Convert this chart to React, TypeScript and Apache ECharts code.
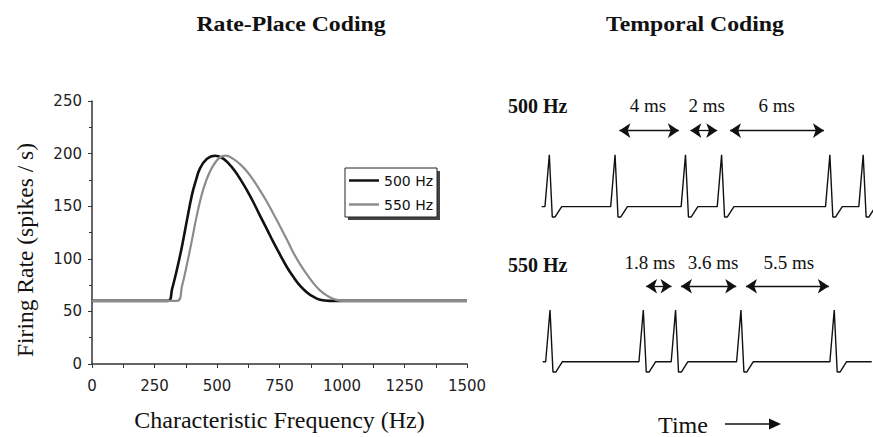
import React, { useEffect, useRef } from "react";
import * as echarts from "echarts";

// ---- Left panel: rate-place coding (firing rate vs characteristic frequency)
const cf500 = [0, 305, 320, 340, 360, 380, 400, 415, 432, 460, 492, 520, 545, 570, 595, 620, 645, 672, 700, 725, 752, 780, 805, 830, 860, 885, 912, 950, 1500];
const rate500 = [60, 60, 71, 90, 112, 137, 161, 174, 186, 195, 198, 196, 191, 184, 175, 165, 154, 141, 128, 116, 104, 92, 83, 75, 68, 64, 61, 60, 60];
const cf550 = [0, 340, 360, 380, 400, 420, 445, 472, 505, 535, 565, 592, 620, 645, 672, 700, 725, 752, 780, 805, 832, 860, 885, 912, 940, 965, 1000, 1500];
const rate550 = [60, 60, 74, 95, 118, 142, 166, 183, 195, 198, 195, 190, 183, 175, 165, 154, 143, 131, 118, 106, 95, 85, 77, 70, 65, 62, 60, 60];
const seriesNames = ["500 Hz", "550 Hz"];

// ---- Right panel: temporal coding (times in ms)
const spikes500 = [0, 3.77, 7.81, 9.88, 16.09, 18.0];
const spikes550 = [0.04, 5.39, 7.24, 10.99, 16.34];
const arrowStart500 = [4.02, 8.09, 10.36];
const arrowEnd500 = [7.43, 9.63, 15.75];
const arrowStart550 = [5.55, 7.55, 11.28];
const arrowEnd550 = [7.01, 10.72, 16.03];
const intervalLabels500 = ["4 ms", "2 ms", "6 ms"];
const intervalLabelX500 = [5.66, 9.03, 13.04];
const intervalLabels550 = ["1.8 ms", "3.6 ms", "5.5 ms"];
const intervalLabelX550 = [5.77, 9.39, 13.74];
// spike waveform: [ms offset, amplitude]
const spikeShape = [[-0.25, 0], [0, 1], [0.17, -0.2], [0.33, -0.2], [0.71, 0]];

function buildTrace(spikes: number[], base: number, tStart: number, tEnd: number) {
  const pts: number[][] = [[tStart, base]];
  spikes.forEach((t) => {
    spikeShape.forEach(([dt, dv]) => pts.push([t + dt, base + dv]));
  });
  if (tEnd > pts[pts.length - 1][0]) pts.push([tEnd, base]);
  return pts;
}

function buildArrows(s: number[], e: number[], y: number) {
  return s.map((v, i) => [{ coord: [v, y] }, { coord: [e[i], y] }]);
}

const serif = "Liberation Serif";
const sans = "DejaVu Sans";

export default function App() {
  const ref = useRef<HTMLDivElement>(null);
  useEffect(() => {
    if (!ref.current) return;
    const chart = echarts.init(ref.current, undefined, { renderer: "svg" });
    const arrowLine = {
      silent: true,
      symbol: ["arrow", "arrow"],
      symbolSize: [11, 11],
      lineStyle: { color: "#111", width: 1.3, type: "solid" },
      label: { show: false },
      emphasis: { disabled: true },
    };
    const labelSeries = (name: string, labels: string[], xs: number[], y: number) => ({
      name,
      type: "scatter",
      xAxisIndex: 1,
      yAxisIndex: 1,
      symbolSize: 0,
      silent: true,
      itemStyle: { opacity: 1, color: "#111" },
      data: labels.map((t, i) => ({ value: [xs[i], y], name: t })),
      label: {
        show: true,
        position: "inside",
        formatter: "{b}",
        fontFamily: serif,
        fontSize: 19,
        color: "#111",
        opacity: 1,
      },
    });
    chart.setOption({
      animation: false,
      backgroundColor: "#fff",
      grid: [
        { left: 92, top: 101, right: 406, bottom: 69 },
        { left: 540.6, top: 103.2, right: 1.1, bottom: 23.6 },
      ],
      xAxis: [
        {
          gridIndex: 0,
          type: "value",
          min: 0,
          max: 1500,
          interval: 250,
          axisLine: { show: true, lineStyle: { color: "#333", width: 1.5 } },
          axisTick: { show: true, length: 4, lineStyle: { color: "#333" } },
          minorTick: { show: true, splitNumber: 2, length: 4, lineStyle: { color: "#333" } },
          splitLine: { show: false },
          axisLabel: { fontFamily: sans, fontSize: 15, color: "#222", margin: 14, formatter: (v: number) => String(v) },
          name: "Characteristic Frequency (Hz)",
          nameLocation: "middle",
          nameGap: 44,
          nameTextStyle: { fontFamily: serif, fontSize: 24, color: "#111" },
        },
        { gridIndex: 1, type: "value", min: -0.5, max: 18.5, show: false },
      ],
      yAxis: [
        {
          gridIndex: 0,
          type: "value",
          min: 0,
          max: 250,
          interval: 50,
          axisLine: { show: true, lineStyle: { color: "#333", width: 1.5 } },
          axisTick: { show: true, length: 4, lineStyle: { color: "#333" } },
          minorTick: { show: true, splitNumber: 2, length: 3, lineStyle: { color: "#333" } },
          splitLine: { show: false },
          axisLabel: { fontFamily: sans, fontSize: 15, color: "#222", margin: 10 },
        },
        { gridIndex: 1, type: "value", min: -1, max: 5, show: false },
      ],
      legend: {
        data: seriesNames.map((n) => ({ name: n, icon: "rect" })),
        orient: "vertical",
        left: 345,
        top: 168,
        padding: [5, 5, 5, 4],
        itemWidth: 30,
        itemHeight: 2.5,
        itemGap: 9,
        textStyle: { fontFamily: sans, fontSize: 14, color: "#111", width: 48, lineHeight: 15, overflow: "none" },
      },
      series: [
        {
          name: seriesNames[0],
          type: "line",
          xAxisIndex: 0,
          yAxisIndex: 0,
          data: cf500.map((x, i) => [x, rate500[i]]),
          symbol: "none",
          smooth: 0.4,
          lineStyle: { color: "#111", width: 2.6 },
          itemStyle: { color: "#111" },
        },
        {
          name: seriesNames[1],
          type: "line",
          xAxisIndex: 0,
          yAxisIndex: 0,
          data: cf550.map((x, i) => [x, rate550[i]]),
          symbol: "none",
          smooth: 0.4,
          lineStyle: { color: "#8c8c8c", width: 2.2 },
          itemStyle: { color: "#8c8c8c" },
        },
        {
          name: "500 Hz spikes",
          type: "line",
          xAxisIndex: 1,
          yAxisIndex: 1,
          data: buildTrace(spikes500, 3, -0.44, 18.5),
          symbol: "none",
          lineStyle: { color: "#111", width: 1.4 },
          markLine: { ...arrowLine, data: buildArrows(arrowStart500, arrowEnd500, 4.47) },
        },
        {
          name: "550 Hz spikes",
          type: "line",
          xAxisIndex: 1,
          yAxisIndex: 1,
          data: buildTrace(spikes550, 0, -0.38, 18.49),
          symbol: "none",
          lineStyle: { color: "#111", width: 1.4 },
          markLine: { ...arrowLine, data: buildArrows(arrowStart550, arrowEnd550, 1.46) },
        },
        labelSeries("500 Hz intervals", intervalLabels500, intervalLabelX500, 4.95),
        labelSeries("550 Hz intervals", intervalLabels550, intervalLabelX550, 1.91),
      ],
      graphic: [
        { type: "rect", z: 1, shape: { x: 348, y: 171, width: 92, height: 49 }, style: { fill: "#444" } },
        { type: "rect", z: 2, shape: { x: 345, y: 168, width: 92, height: 49 }, style: { fill: "#fff", stroke: "#222", lineWidth: 1 } },
        {
          type: "text",
          x: 291,
          y: 24,
          scaleX: 1.08,
          style: { text: "Rate-Place Coding", font: `bold 22px "${serif}"`, fill: "#111", align: "center", verticalAlign: "middle" },
        },
        {
          type: "text",
          x: 695,
          y: 24,
          scaleX: 1.08,
          style: { text: "Temporal Coding", font: `bold 22px "${serif}"`, fill: "#111", align: "center", verticalAlign: "middle" },
        },
        {
          type: "text",
          x: 25,
          y: 250,
          rotation: Math.PI / 2,
          style: { text: "Firing Rate (spikes / s)", font: `23.5px "${serif}"`, fill: "#111", align: "center", verticalAlign: "middle" },
        },
        {
          type: "text",
          x: 508,
          y: 106,
          style: { text: "500 Hz", font: `bold 20px "${serif}"`, fill: "#111", align: "left", verticalAlign: "middle" },
        },
        {
          type: "text",
          x: 508,
          y: 265,
          style: { text: "550 Hz", font: `bold 20px "${serif}"`, fill: "#111", align: "left", verticalAlign: "middle" },
        },
        {
          type: "text",
          x: 683,
          y: 425,
          style: { text: "Time", font: `24px "${serif}"`, fill: "#111", align: "center", verticalAlign: "middle" },
        },
        { type: "line", shape: { x1: 725, y1: 424, x2: 772, y2: 424 }, style: { stroke: "#111", lineWidth: 1.4 } },
        { type: "polygon", shape: { points: [[769, 418.5], [781, 424], [769, 429.5]] }, style: { fill: "#111" } },
      ],
    });
    return () => chart.dispose();
  }, []);
  return <div ref={ref} style={{ position: "absolute", left: 0, top: 0, width: 873, height: 437 }} />;
}
